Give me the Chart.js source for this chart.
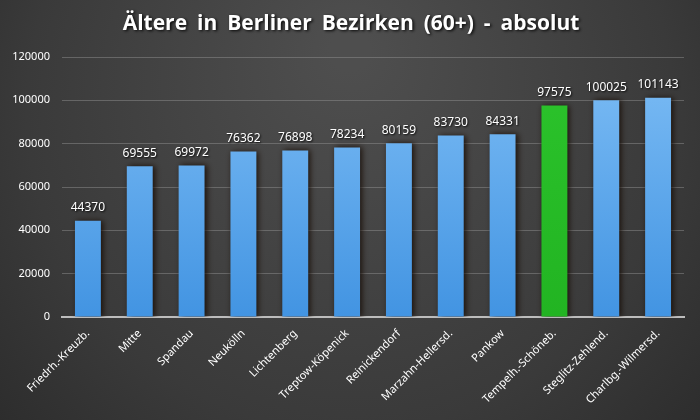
<!DOCTYPE html>
<html><head><meta charset="utf-8">
<script src="https://cdn.jsdelivr.net/npm/chart.js@4/dist/chart.umd.min.js"></script>
<style>html,body{margin:0;padding:0;background:#333;}#wrap{width:700px;height:420px;}</style>
</head><body><div id="wrap"><canvas id="c" width="700" height="420"></canvas></div>
<script>
const categories = ["Friedrh.-Kreuzb.","Mitte","Spandau","Neukölln","Lichtenberg","Treptow-Köpenick","Reinickendorf","Marzahn-Hellersd.","Pankow","Tempelh.-Schöneb.","Steglitz-Zehlend.","Charlbg.-Wilmersd."];
const values = [44370,69555,69972,76362,76898,78234,80159,83730,84331,97575,100025,101143];
const highlight = "Tempelh.-Schöneb.";
const yTicks = [0,20000,40000,60000,80000,100000,120000];
const titleText = "Ältere in Berliner Bezirken (60+) - absolut";

const bgPlugin = {
  id:'bg',
  beforeDraw(chart){
    const ctx = chart.ctx, w = chart.width, h = chart.height;
    ctx.save();
    const g = ctx.createRadialGradient(w*0.5, h*0.12, 20, w*0.5, h*0.35, w*0.75);
    g.addColorStop(0,'#4e4e4e');
    g.addColorStop(0.6,'#3a3a3a');
    g.addColorStop(1,'#262626');
    ctx.fillStyle = g;
    ctx.fillRect(0,0,w,h);
    // title
    ctx.font = 'bold 21px "Open Sans", sans-serif';
    ctx.textAlign = 'center';
    ctx.textBaseline = 'middle';
    ctx.shadowColor = 'rgba(0,0,0,0.9)';
    ctx.shadowOffsetX = 1.5; ctx.shadowOffsetY = 1.5; ctx.shadowBlur = 3;
    ctx.fillStyle = '#ffffff';
    if ('wordSpacing' in ctx) ctx.wordSpacing = '4.5px';
    ctx.fillText(titleText, 351, 24);
    ctx.restore();
  }
};
const shadowPlugin = {
  id:'shadow',
  beforeDatasetsDraw(chart){
    const ctx = chart.ctx;
    ctx.save();
    ctx.shadowColor = 'rgba(20,8,0,0.85)';
    ctx.shadowBlur = 6;
    ctx.shadowOffsetX = 2; ctx.shadowOffsetY = 0;
  },
  afterDatasetsDraw(chart){
    chart.ctx.restore();
    const ctx = chart.ctx;
    const meta = chart.getDatasetMeta(0);
    ctx.save();
    ctx.font = '12px "Noto Sans", sans-serif';
    ctx.textAlign = 'center';
    ctx.textBaseline = 'bottom';
    ctx.fillStyle = '#ffffff';
    ctx.shadowColor = 'rgba(0,0,0,0.9)';
    ctx.shadowOffsetX = 1; ctx.shadowOffsetY = 1; ctx.shadowBlur = 2;
    meta.data.forEach((bar,i)=>{
      ctx.fillText(String(values[i]), bar.x, bar.y - 7);
    });
    ctx.restore();
  }
};

function barColor(c){
  const chart = c.chart;
  const area = chart.chartArea;
  if (!area) return '#4a9ae6';
  const cat = categories[c.dataIndex];
  const g = chart.ctx.createLinearGradient(0, area.top, 0, area.bottom);
  if (cat === highlight) {
    g.addColorStop(0,'#2cc42c'); g.addColorStop(1,'#22b422');
  } else {
    g.addColorStop(0,'#7dbdf5'); g.addColorStop(1,'#4294e2');
  }
  return g;
}

new Chart(document.getElementById('c'), {
  type:'bar',
  data:{labels:categories, datasets:[{data:values, backgroundColor:barColor, borderWidth:0, barPercentage:0.5, categoryPercentage:1}]},
  options:{
    responsive:false, animation:false, devicePixelRatio:1,
    layout:{padding:{top:57,right:16,left:0,bottom:0}},
    plugins:{legend:{display:false}, tooltip:{enabled:false}, title:{display:false}},
    scales:{
      y:{min:0,max:120000,
        afterBuildTicks(s){ s.ticks = yTicks.map(v=>({value:v})); },
        afterFit(s){ s.width = 62; },
        grid:{color:'rgba(150,150,150,0.45)', drawTicks:false, lineWidth:1},
        border:{display:false},
        ticks:{color:'#ffffff', padding:12, callback:(v)=>String(v), font:{family:'"Noto Sans", sans-serif', size:11}}
      },
      x:{
        afterFit(s){ s.height = 103; },
        grid:{display:false},
        border:{color:'#bdbdbd', width:2},
        ticks:{color:'#ffffff', maxRotation:45, minRotation:45, padding:2, autoSkip:false, font:{family:'"Noto Sans", sans-serif', size:11}}
      }
    }
  },
  plugins:[bgPlugin, shadowPlugin]
});
</script></body></html>
